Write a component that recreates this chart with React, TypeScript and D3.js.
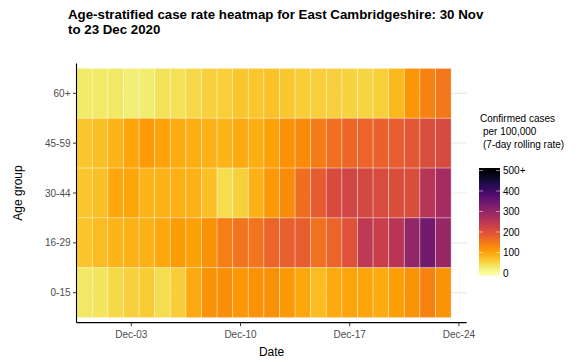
import React from "react";
import * as d3 from "d3";

const ageGroups = ["60+", "45-59", "30-44", "16-29", "0-15"];
const startDate = "2020-11-30";
const nDays = 24;

const rate60plus = [30, 30, 32, 25, 27, 38, 40, 48, 55, 58, 68, 67, 72, 66, 60, 58, 56, 53, 52, 57, 82, 115, 138, 150];
const rate45to59 = [68, 74, 85, 98, 110, 103, 92, 90, 86, 85, 95, 90, 105, 120, 128, 145, 160, 168, 172, 176, 182, 190, 205, 212];
const rate30to44 = [68, 73, 97, 98, 85, 86, 88, 87, 74, 44, 56, 86, 112, 128, 162, 185, 210, 220, 214, 208, 207, 207, 255, 278];
const rate16to29 = [70, 78, 84, 86, 87, 97, 110, 104, 120, 142, 153, 153, 173, 178, 180, 157, 173, 198, 245, 232, 252, 300, 340, 293];
const rate0to15 = [32, 36, 48, 56, 62, 43, 60, 95, 120, 125, 117, 120, 123, 112, 96, 77, 95, 101, 98, 93, 106, 118, 137, 118];

const xTickLabels = ["Dec-03", "Dec-10", "Dec-17", "Dec-24"];
const xTickDates = ["2020-12-03", "2020-12-10", "2020-12-17", "2020-12-24"];
const legendTicks = [0, 100, 200, 300, 400, 500];
const legendTickLabels = ["0", "100", "200", "300", "400", "500+"];

const seriesByGroup: Record<string, number[]> = {
  "60+": rate60plus,
  "45-59": rate45to59,
  "30-44": rate30to44,
  "16-29": rate16to29,
  "0-15": rate0to15,
};

const DAY = 86400000;
const parse = (s: string) => new Date(s + "T00:00:00Z");

export default function App() {
  const W = 585, H = 360;
  const font = "'Liberation Sans', Arial, sans-serif";
  const start = parse(startDate);
  const x = d3
    .scaleUtc()
    .domain([new Date(start.getTime() - DAY / 2), new Date(start.getTime() + (nDays + 0.5) * DAY)])
    .range([76.7, 466.7]);
  const panelTop = 63.4, panelBottom = 322.6;
  const y = d3.scaleBand<string>().domain(ageGroups).range([68.4, 317.6]).padding(0);
  const color = (v: number) => d3.interpolateInferno(1 - Math.min(v, 500) / 500);

  const cells: { g: string; d: Date; v: number }[] = [];
  ageGroups.forEach((g) => {
    seriesByGroup[g].forEach((v, i) => {
      cells.push({ g, d: new Date(start.getTime() + i * DAY), v });
    });
  });

  const legScale = d3.scaleLinear().domain([0, 500]).range([273, 170.5]);
  const barX = 479, barW = 21, barTop = 168, barBottom = 275.5;
  const gradStops = d3.range(0, 1.0001, 0.05);

  const axisLeft = 76.5;
  return (
    <svg width={W} height={H} style={{ position: "absolute", left: 0, top: 0, background: "#fff" }} fontFamily={font}>
      <defs>
        <linearGradient id="legGrad" x1="0" y1="1" x2="0" y2="0">
          {gradStops.map((t) => {
            const v = legScale.invert(barBottom + (barTop - barBottom) * t);
            return <stop key={t} offset={t} stopColor={color(Math.max(0, Math.min(500, v)))} />;
          })}
        </linearGradient>
      </defs>
      <rect width={W} height={H} fill="#fff" />
      {/* title */}
      <text x={68} y={19} fontSize={13.3} fontWeight="bold" fill="#000">
        Age-stratified case rate heatmap for East Cambridgeshire: 30 Nov
      </text>
      <text x={68} y={34} fontSize={13.3} fontWeight="bold" fill="#000">
        to 23 Dec 2020
      </text>
      {/* gridlines */}
      {ageGroups.map((g) => (
        <line key={g} x1={axisLeft} x2={x.range()[1]} y1={y(g)! + y.bandwidth() / 2} y2={y(g)! + y.bandwidth() / 2} stroke="#ebebe6" strokeWidth={1.2} />
      ))}
      {/* tiles */}
      {cells.map((c, i) => (
        <rect
          key={i}
          x={x(new Date(c.d.getTime() - DAY / 2))}
          y={y(c.g)}
          width={x(new Date(c.d.getTime() + DAY / 2)) - x(new Date(c.d.getTime() - DAY / 2))}
          height={y.bandwidth()}
          fill={color(c.v)}
          stroke="rgba(255,255,255,0.4)"
          strokeWidth={0.8}
        />
      ))}
      {/* axes */}
      <line x1={axisLeft} x2={axisLeft} y1={panelTop} y2={panelBottom} stroke="#000" strokeWidth={1.1} />
      <line x1={axisLeft} x2={x.range()[1]} y1={panelBottom} y2={panelBottom} stroke="#000" strokeWidth={1.1} />
      {ageGroups.map((g) => {
        const cy = y(g)! + y.bandwidth() / 2;
        return (
          <g key={g}>
            <line x1={axisLeft - 3.5} x2={axisLeft} y1={cy} y2={cy} stroke="#333" strokeWidth={1} />
            <text x={axisLeft - 6} y={cy} dy="0.35em" textAnchor="end" fontSize={10} fill="#4d4d4d">
              {g}
            </text>
          </g>
        );
      })}
      {xTickDates.map((ds, i) => {
        const tx = x(parse(ds));
        return (
          <g key={ds}>
            <line x1={tx} x2={tx} y1={panelBottom} y2={panelBottom + 3.5} stroke="#333" strokeWidth={1} />
            <text x={tx} y={panelBottom + 15} textAnchor="middle" fontSize={10} fill="#4d4d4d">
              {xTickLabels[i]}
            </text>
          </g>
        );
      })}
      <text x={(axisLeft + x.range()[1]) / 2} y={356} textAnchor="middle" fontSize={12} fill="#000">
        Date
      </text>
      <text transform={`translate(22,${(panelTop + panelBottom) / 2}) rotate(-90)`} textAnchor="middle" fontSize={12} fill="#000">
        Age group
      </text>
      {/* legend */}
      <text x={480} y={122} fontSize={10} fill="#000">Confirmed cases</text>
      <text x={483} y={135} fontSize={10} fill="#000">per 100,000</text>
      <text x={483} y={148} fontSize={10} fill="#000">(7-day rolling rate)</text>
      <rect x={barX} y={barTop} width={barW} height={barBottom - barTop} fill="url(#legGrad)" />
      {legendTicks.map((t, i) => {
        const ty = legScale(t);
        return (
          <g key={t}>
            <line x1={barX} x2={barX + 4} y1={ty} y2={ty} stroke="#fff" strokeOpacity={0.5} />
            <line x1={barX + barW - 4} x2={barX + barW} y1={ty} y2={ty} stroke="#fff" strokeOpacity={0.5} />
            <text x={barX + barW + 3} y={ty} dy="0.35em" fontSize={10} fill="#000">
              {legendTickLabels[i]}
            </text>
          </g>
        );
      })}
    </svg>
  );
}
